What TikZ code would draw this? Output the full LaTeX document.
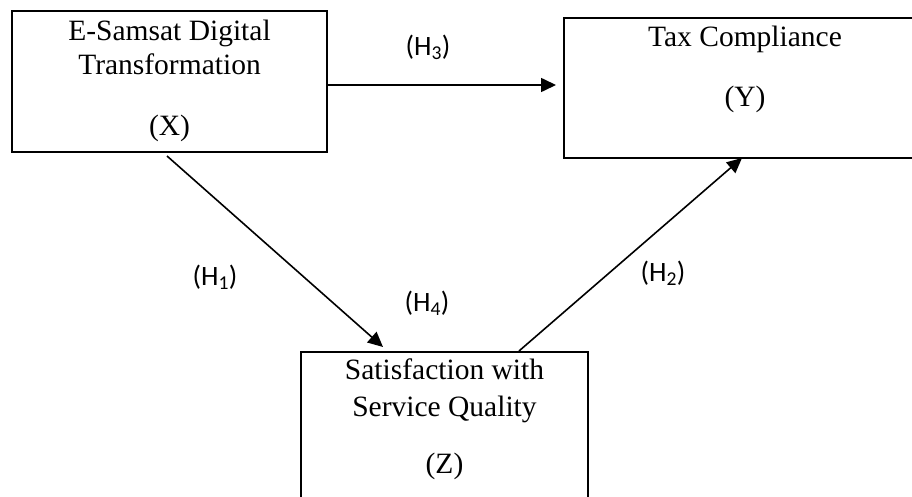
\documentclass[tikz,border=0pt]{standalone}
\usepackage{fontspec}
\setmainfont{Liberation Serif}
\newfontfamily\hfont{Carlito}
\usetikzlibrary{arrows.meta,calc}
\begin{document}
\begin{tikzpicture}[x=1pt,y=-1pt,
  box/.style={draw=black,line width=2pt,rectangle,inner sep=0pt},
  txt/.style={font=\fontsize{29.5}{33}\selectfont,anchor=base,inner sep=0pt},
  hlab/.style={font=\hfont\fontsize{28}{32}\selectfont,inner sep=0pt},
  arr/.style={line width=1.6pt,-{Triangle[length=15pt,width=14pt]}}]
\useasboundingbox (0,0) rectangle (912,497);
\clip (0,0) rectangle (912,497);
% boxes
\node[box,minimum width=315pt,minimum height=141pt] (bx) at (169.5,81.5) {};
\node[box,minimum width=362pt,minimum height=140pt] (by) at (745,88) {};
\node[box,minimum width=287pt,minimum height=153pt] (bz) at (444.5,428.5) {};
% texts
\node[txt] (tx1) at (169.5,41) {E-Samsat Digital};
\node[txt] (tx2) at (169.5,75) {Transformation};
\node[txt] (tx3) at (169.5,136) {(X)};
\node[txt] (ty1) at (745,47) {Tax Compliance};
\node[txt] (ty2) at (745,107) {(Y)};
\node[txt] (tz1) at (444.5,379) {Satisfaction with};
\node[txt] (tz2) at (444.5,416) {Service Quality};
\node[txt] (tz3) at (444.5,473) {(Z)};
% connector end points
\coordinate (h3s) at ($(bx.east)+(0,3.5)$);
\coordinate (h3e) at ($(by.west)+(-7,-3)$);
\coordinate (h1s) at ($(bx.south)+(-2.5,3)$);
\coordinate (h1e) at ($(bz.north)+(-61.5,-4)$);
\coordinate (h2s) at ($(bz.north)+(74.5,0)$);
\coordinate (h2e) at ($(by.south)+(-3,-1)$);
% connectors
\draw[arr] (h3s) -- (h3e);
\draw[arr] (h1s) -- (h1e);
\draw[arr] (h2s) -- (h2e);
% labels
\node[hlab] (l3) at (428,47) {(H\textsubscript{3})};
\node[hlab] (l1) at (215,277) {(H\textsubscript{1})};
\node[hlab] (l4) at (427,303) {(H\textsubscript{4})};
\node[hlab] (l2) at (663,273) {(H\textsubscript{2})};
\end{tikzpicture}
\end{document}
